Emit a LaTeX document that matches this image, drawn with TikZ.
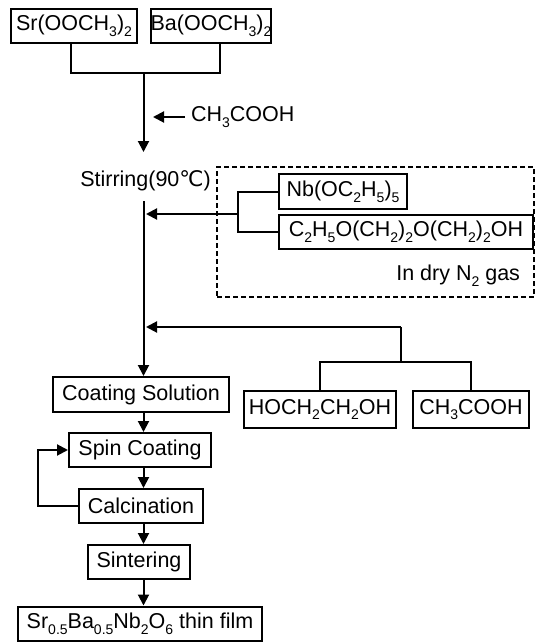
\documentclass[tikz,border=0pt]{standalone}
\usepackage{fontspec}
\setmainfont{Liberation Sans}
\newfontfamily\djv{DejaVu Sans}
\usetikzlibrary{arrows.meta}
\newcommand\sbs[1]{\raisebox{-0.5ex}{\fontsize{14}{14}\selectfont #1}}
\begin{document}
\begin{tikzpicture}[x=1pt,y=-1pt, line width=2pt,
  box/.style={draw, line width=2pt, inner sep=0pt, font=\fontsize{21.5}{24}\selectfont},
  arr/.style={-{Triangle[length=11pt,width=11pt]}},
  lbl/.style={inner sep=0pt, font=\fontsize{21.5}{24}\selectfont},
  drybox/.style={draw, dashed, dash pattern=on 5pt off 3pt, line width=1.5pt, inner sep=0pt}]
\useasboundingbox (0,0) rectangle (536,642);
% top precursors
\node[box, minimum width=126pt, minimum height=34pt] (sr) at (74,26) {Sr(OOCH\sbs3)\sbs2};
\node[box, minimum width=116pt, minimum height=34pt] (ba) at (211,26) {Ba(OOCH\sbs3)\sbs2};
\coordinate (j1) at (143.5,73);
\coordinate (a1) at (143.5,152);
\draw ([xshift=-3pt]sr.south) |- (j1) -| ([xshift=9pt]ba.south);
\draw[arr] (j1) -- (a1);
\node[lbl, anchor=west] (acid1) at (190,117) {CH\sbs3COOH};
\draw[arr] ([xshift=-5pt]acid1.west) -- ++(-32,0);
\node[lbl] (stir) at (145.5,181) {Stirring(90{\djv ℃})};
% dry N2 region
\node[drybox, minimum width=317pt, minimum height=130pt] (dry) at (375.5,232) {};
\node[box, minimum width=128pt, minimum height=35pt] (nb) at (343,191.5) {Nb(OC\sbs2H\sbs5)\sbs5};
\node[box, minimum width=254pt, minimum height=34pt] (ce) at (406,232) {C\sbs2H\sbs5O(CH\sbs2)\sbs2O(CH\sbs2)\sbs2OH};
\coordinate (j2) at (238,214);
\coordinate (a2) at (146,214);
\draw (nb.west) -| (j2) |- (ce.west);
\draw[arr] (j2) -- (a2);
\node[lbl, anchor=east] (n2) at (521,276) {In dry N\sbs2 gas};
% second additions
\coordinate (j3) at (401,327);
\coordinate (a3) at (146,327);
\coordinate (j4) at (401,362);
\draw[arr] (j3) -- (a3);
\draw (j3) -- (j4);
\node[box, minimum width=152pt, minimum height=37pt] (ho) at (320,409.5) {HOCH\sbs2CH\sbs2OH};
\node[box, minimum width=116pt, minimum height=37pt] (ac2) at (471,409.5) {CH\sbs3COOH};
\draw (ho.north) |- (j4) -| (ac2.north);
% process column
\node[box, minimum width=176pt, minimum height=35pt] (coat) at (141,394.5) {Coating Solution};
\node[box, minimum width=142pt, minimum height=34pt] (spin) at (140,450) {Spin Coating};
\node[box, minimum width=124pt, minimum height=34pt] (calc) at (141,506) {Calcination};
\node[box, minimum width=102pt, minimum height=34pt] (sint) at (139,562) {Sintering};
\node[box, minimum width=244pt, minimum height=34pt] (film) at (140,623.5) {Sr\sbs{0.5}Ba\sbs{0.5}Nb\sbs2O\sbs6 thin film};
\draw[arr] ([yshift=-9pt]stir.south -| j1) -- (coat.north -| j1);
\draw[arr] (coat.south -| j1) -- (spin.north -| j1);
\draw[arr] (spin.south -| j1) -- (calc.north -| j1);
\draw[arr] (calc.south -| j1) -- (sint.north -| j1);
\draw[arr] (sint.south -| j1) -- (film.north -| j1);
\draw[arr] (calc.west) -- ++(-40,0) |- (spin.west);
\end{tikzpicture}
\end{document}
